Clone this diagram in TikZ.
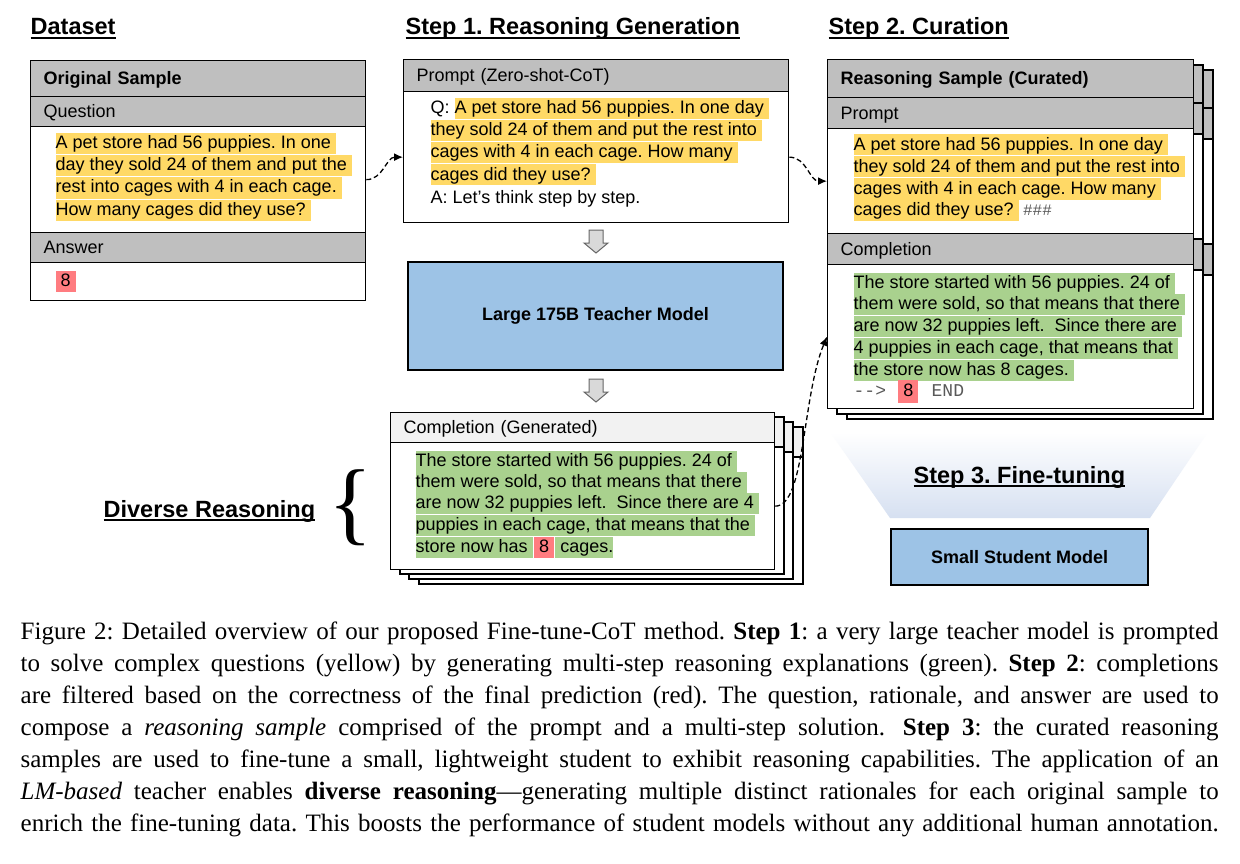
\documentclass[tikz,border=0pt]{standalone}
\usepackage{fontspec}
\setmainfont{Liberation Serif}
\newfontfamily\arialfont{Liberation Sans}
\newfontfamily\monofont{Liberation Mono}
\usetikzlibrary{positioning}
\usetikzlibrary{arrows.meta}
\definecolor{hdrgray}{HTML}{BFBFBF}
\definecolor{hdrlight}{HTML}{F2F2F2}
\definecolor{qyellow}{HTML}{FFD966}
\definecolor{rgreen}{HTML}{A9D18E}
\definecolor{ansred}{HTML}{FF7C80}
\definecolor{modelblue}{HTML}{9DC3E6}
\definecolor{fadeblue}{HTML}{D6E0F1}
\definecolor{codegray}{HTML}{595959}
\newsavebox{\ulbox}
\newcommand{\ulined}[1]{\sbox{\ulbox}{#1}\rlap{\rule[-4pt]{\wd\ulbox}{2pt}}\usebox{\ulbox}}
\newcommand{\capline}[1]{\hbox to 1198pt{#1}}
\frenchspacing

\begin{document}
\begin{tikzpicture}[x=1pt, y=-1pt, line width=1.3pt,
    txt/.style = {font=\arialfont\fontsize{18}{22}\selectfont},
    cardbox/.style = {draw, anchor=north west, inner sep=0pt},
    hdr/.style = {cardbox, txt, fill=hdrgray, inner xsep=13pt, align=left, text height=14pt, text depth=2pt},
    hdrbold/.style = {hdr, font=\arialfont\bfseries\fontsize{18}{22}\selectfont},
    boxbody/.style = {cardbox, fill=white},
    txtline/.style = {txt, anchor=west, inner sep=0pt, minimum height=21pt, text height=14pt, text depth=4pt},
    hly/.style = {txtline, fill=qyellow, execute at end node={\kern5pt}},
    hlg/.style = {txtline, fill=rgreen, execute at end node={\kern5pt}},
    hlgpiece/.style = {txtline, fill=rgreen},
    ansbox/.style = {txtline, fill=ansred, inner xsep=5pt},
    monotext/.style = {anchor=west, inner sep=0pt, text=codegray, font=\monofont\fontsize{18}{22}\selectfont},
    modelbox/.style = {draw, fill=modelblue, font=\arialfont\bfseries\fontsize{18}{22}\selectfont},
    steptitle/.style = {anchor=base west, inner sep=0pt, font=\arialfont\bfseries\fontsize{23.5}{28}\selectfont},
    dashlink/.style = {dash pattern=on 5pt off 3pt, -{Latex[length=9pt,width=8pt]}},
    capnode/.style = {anchor=north west, inner sep=0pt, text width=1198pt, align=left, font=\rmfamily\fontsize{25}{32}\selectfont},
    downarrow/.pic = {\draw[line width=1pt, draw=black!60, fill=black!15] (-7,0) -- (7,0) -- (7,13) -- (12,13) -- (0,23) -- (-12,13) -- (-7,13) -- cycle;}
  ]
  \useasboundingbox (0,0) rectangle (1240,864);
  \fill[white] (0,0) rectangle (1240,864);

  % Titles
  \node[steptitle] (tData) at (30,35) {\ulined{Dataset}};
  \node[steptitle] (tGen) at (405,35) {\ulined{Step 1. Reasoning Generation}};
  \node[steptitle] (tCur) at (828,35) {\ulined{Step 2. Curation}};

  % Dataset: original sample
  \node[hdrbold, text width=309pt, minimum height=36pt] (osHead) at (30,60) {Original Sample};
  \node[hdr, text width=309pt, minimum height=30pt] (osQLabel) at (30,96) {Question};
  \node[boxbody, minimum width=335pt, minimum height=106pt] (osQBody) at (30,126) {};
  \node[hdr, text width=309pt, minimum height=30pt] (osALabel) at (30,232) {Answer};
  \node[boxbody, minimum width=335pt, minimum height=38pt] (osABody) at (30,262) {};
  \node[hly] (os1) at (55,144) {A pet store had 56 puppies. In one};
  \node[hly] (os2) at (55,166) {day they sold 24 of them and put the};
  \node[hly] (os3) at (55,188) {rest into cages with 4 in each cage.};
  \node[hly] (os4) at (55,210) {How many cages did they use?};
  \node[ansbox] (osAns) at (55,281) {8};

  % Step 1: prompt
  \node[hdr, text width=359pt, minimum height=32pt] (prHead) at (403,59) {Prompt (Zero-shot-CoT)};
  \node[boxbody, minimum width=385pt, minimum height=131pt] (prBody) at (403,91) {};
  \node[txtline] (prQ) at (430,109) {Q:};
  \node[hly] (pr1) at (454,109) {A pet store had 56 puppies. In one day};
  \node[hly] (pr2) at (430,131) {they sold 24 of them and put the rest into};
  \node[hly] (pr3) at (430,153) {cages with 4 in each cage. How many};
  \node[hly] (pr4) at (430,175) {cages did they use?};
  \node[txtline] (prA) at (430,199) {A: Let’s think step by step.};

  \pic at (596,230) {downarrow};
  \node[modelbox, minimum width=375pt, minimum height=108pt] (teacher) at (595.5,316) {Large 175B Teacher Model};
  \pic at (596,379) {downarrow};

  % Step 1: generated completions (stack)
  \draw[fill=white] (419,427) rectangle (803,584);
  \draw[fill=hdrlight] (419,427) rectangle (803,457);
  \draw[fill=white] (409,422) rectangle (793,579);
  \draw[fill=hdrlight] (409,422) rectangle (793,452);
  \draw[fill=white] (400,417) rectangle (784,574);
  \draw[fill=hdrlight] (400,417) rectangle (784,447);
  \node[hdr, fill=hdrlight, text width=358pt, minimum height=30pt] (genHead) at (390,412) {Completion (Generated)};
  \node[boxbody, minimum width=384pt, minimum height=127pt] (genBody) at (390,442) {};
  \node[hlg] (gen1) at (415,461) {The store started with 56 puppies. 24 of};
  \node[hlg] (gen2) at (415,482) {them were sold, so that means that there};
  \node[hlg] (gen3) at (415,503) {are now 32 puppies left.\ \ Since there are 4};
  \node[hlg] (gen4) at (415,525) {puppies in each cage, that means that the};
  \node[hlg] (gen5) at (415,547) {store now has};
  \node[ansbox, right=0pt of gen5] (genAns) {8};
  \node[hlgpiece, right=0pt of genAns] (gen5b) {\kern5pt cages.};

  \node[steptitle] (diverse) at (103,517) {\ulined{Diverse Reasoning}};
  \node[inner sep=0pt, font=\rmfamily\fontsize{92}{92}\selectfont] (brace) at (351,508) {\{};

  % Step 2: curated sample (stack)
  \draw[fill=white] (847,70) rectangle (1213,419);
  \draw[fill=hdrgray] (847,70) rectangle (1213,108);
  \draw[fill=hdrgray] (847,108) rectangle (1213,139);
  \draw[fill=hdrgray] (847,244) rectangle (1213,275);
  \draw[fill=white] (837,65) rectangle (1203,414);
  \draw[fill=hdrgray] (837,65) rectangle (1203,103);
  \draw[fill=hdrgray] (837,103) rectangle (1203,134);
  \draw[fill=hdrgray] (837,239) rectangle (1203,270);
  \node[hdrbold, text width=340pt, minimum height=38pt] (cuHead) at (827,59) {Reasoning Sample (Curated)};
  \node[hdr, text width=340pt, minimum height=31pt] (cuPLabel) at (827,97) {Prompt};
  \node[boxbody, minimum width=366pt, minimum height=105pt] (cuPBody) at (827,128) {};
  \node[hdr, text width=340pt, minimum height=31pt] (cuCLabel) at (827,233) {Completion};
  \node[boxbody, minimum width=366pt, minimum height=144pt] (cuCBody) at (827,264) {};
  \node[hly] (cu1) at (853,145) {A pet store had 56 puppies. In one day};
  \node[hly] (cu2) at (853,167) {they sold 24 of them and put the rest into};
  \node[hly] (cu3) at (853,189) {cages with 4 in each cage. How many};
  \node[hly] (cu4) at (853,210) {cages did they use?};
  \node[monotext, font=\monofont\fontsize{16}{20}\selectfont, right=3pt of cu4] (cuSep) {\#\#\#};
  \node[hlg] (cuc1) at (853,283) {The store started with 56 puppies. 24 of};
  \node[hlg] (cuc2) at (853,304) {them were sold, so that means that there};
  \node[hlg] (cuc3) at (853,326) {are now 32 puppies left.\ \ Since there are};
  \node[hlg] (cuc4) at (853,348) {4 puppies in each cage, that means that};
  \node[hlg] (cuc5) at (853,370) {the store now has 8 cages.};
  \node[monotext] (cuArrow) at (853,391) {-{}-{}>};
  \node[ansbox, minimum height=23pt, right=11pt of cuArrow] (cuAns) {8};
  \node[monotext, right=12pt of cuAns] (cuEnd) {END};

  % Step 3: fine-tuning
  \shade[top color=white, bottom color=fadeblue] (830,432) -- (1208,432) -- (1150,518) -- (890,518) -- cycle;
  \node[steptitle] (tTune) at (913,483) {\ulined{Step 3. Fine-tuning}};
  \node[modelbox, minimum width=257pt, minimum height=56pt] (student) at (1019.5,557) {Small Student Model};

  % Links
  \draw[dashlink] (osQBody.east) to[out=0, in=180] (prBody.west);
  \draw[dashlink] (prBody.east) to[out=0, in=180] (cuPBody.west);
  \draw[dashlink] (genBody.east) .. controls +(30,0) and +(-25,60) .. (cuCBody.west);

  % Caption
  \node[capnode] (caption) at (20,621) {\spaceskip=6pt plus 12pt minus 2pt
    \capline{Figure 2: Detailed overview of our proposed Fine-tune-CoT method. \textbf{Step 1}: a very large teacher model is prompted}
    \capline{to solve complex questions (yellow) by generating multi-step reasoning explanations (green). \textbf{Step 2}: completions}
    \capline{are filtered based on the correctness of the final prediction (red). The question, rationale, and answer are used to}
    \capline{compose a \textit{reasoning sample} comprised of the prompt and a multi-step solution.\hspace{6pt} \textbf{Step 3}: the curated reasoning}
    \capline{samples are used to fine-tune a small, lightweight student to exhibit reasoning capabilities. The application of an}
    \capline{\textit{LM-based} teacher enables \textbf{diverse reasoning}—generating multiple distinct rationales for each original sample to}
    \capline{enrich the fine-tuning data. This boosts the performance of student models without any additional human annotation.}};
\end{tikzpicture}
\end{document}
